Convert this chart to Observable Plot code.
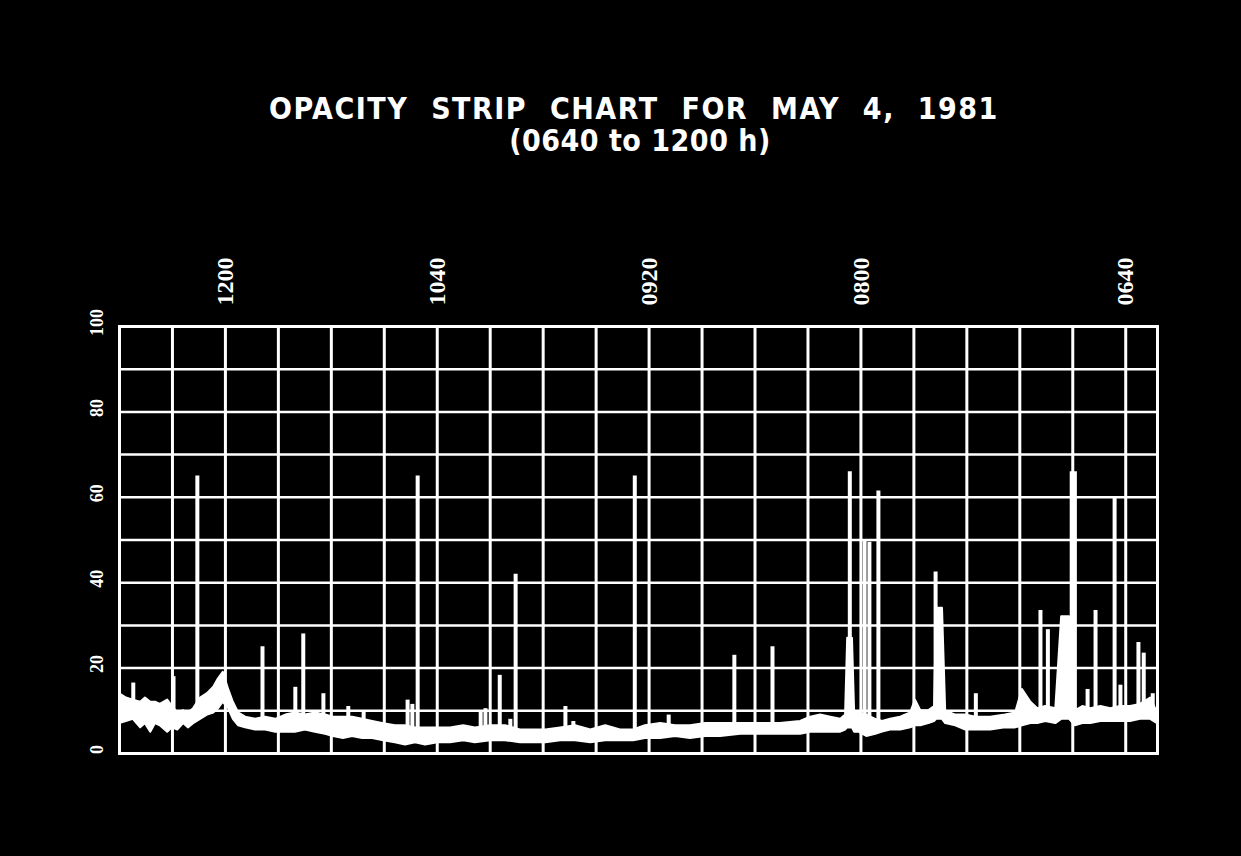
<!DOCTYPE html>
<html>
<head>
<meta charset="utf-8">
<script src="https://cdn.jsdelivr.net/npm/d3@7"></script>
<script src="https://cdn.jsdelivr.net/npm/@observablehq/plot@0.6"></script>
<style>
  html, body { margin: 0; padding: 0; background: #000; }
  body { width: 1241px; height: 856px; overflow: hidden; }
  #head { position: relative; height: 230px; }
  .t { position: absolute; transform: translateX(-50%); white-space: nowrap; color: #fff;
       font-family: "DejaVu Sans Condensed", "DejaVu Sans", sans-serif; font-stretch: condensed;
       font-weight: bold; font-size: 30px; line-height: 30px; }
  #t1 { left: 634px; top: 94px; letter-spacing: 1.5px; word-spacing: 12px; }
  #t2 { left: 640px; top: 126px; letter-spacing: 0.5px; }
  svg { display: block; }
</style>
</head>
<body>
<div id="head">
  <div class="t" id="t1">OPACITY STRIP CHART FOR MAY 4, 1981</div>
  <div class="t" id="t2">(0640 to 1200 h)</div>
</div>
<div id="chart"></div>
<script>
// x is measured in strip-chart grid divisions from the left edge (time runs right to left)
const xTickDivs = [2, 6, 10, 14, 19];
const xTickLabels = ["1200", "1040", "0920", "0800", "0640"];
const yTicks = [0, 20, 40, 60, 80, 100];

// baseline trace (noisy pen band): lower and upper edge of the band, % opacity
const bandDiv = [0, 0.13, 0.26, 0.40, 0.49, 0.59, 0.68, 0.77, 0.91, 1.00, 1.10, 1.21, 1.30, 1.40, 1.53, 1.66, 1.78, 1.87, 1.96, 2.06,
  2.15, 2.25, 2.38, 2.57, 2.76, 2.95, 3.14, 3.32, 3.51, 3.70, 3.89, 4.04, 4.23, 4.40, 4.59, 4.78, 4.99, 5.21, 5.40, 5.59,
  5.78, 6.01, 6.25, 6.50, 6.72, 7.01, 7.29, 7.57, 7.86, 8.05, 8.33, 8.61, 8.90, 9.18, 9.46, 9.71, 9.93, 10.22, 10.50, 10.78,
  11.07, 11.35, 11.73, 12.11, 12.48, 12.86, 13.05, 13.24, 13.43, 13.62, 13.71, 13.75, 13.84, 13.88, 13.96, 14.11, 14.28, 14.41, 14.56, 14.75,
  14.94, 15.03, 15.13, 15.28, 15.39, 15.43, 15.54, 15.60, 15.79, 15.98, 16.17, 16.45, 16.73, 16.92, 17.05, 17.21, 17.34, 17.49, 17.68, 17.79,
  17.94, 18.05, 18.19, 18.34, 18.53, 18.72, 18.90, 19.09, 19.28, 19.47, 19.60];
const bandLow = [7, 7.5, 8, 6, 7, 5, 7, 6.5, 5, 6, 5.5, 7, 6, 7, 8, 9, 9.5, 10.5, 12, 10.5,
  8, 6.5, 6, 5.5, 5.5, 5, 5, 5, 5.5, 5, 4.5, 4, 3.5, 4, 3.5, 3.5, 3, 2.5, 2, 2.5,
  2, 2.5, 2.5, 3, 2.5, 3, 3, 2.5, 2.5, 2.5, 3, 3, 2.5, 3, 3, 3, 3.5, 3.5, 4, 3.5,
  4, 4, 4.5, 4.5, 4.5, 4.5, 5, 5, 5, 5, 5.5, 6, 6, 5, 5, 4, 4.5, 5, 5.5, 5.5,
  6, 6.5, 6.5, 7, 7.5, 8, 8, 7, 6.5, 5.5, 5.5, 5.5, 6, 6, 6.5, 7, 7, 7.5, 7, 8,
  8, 6.5, 7, 7, 7.5, 7.5, 7.5, 7.5, 8, 8, 7];
const bandHigh = [14, 13, 12.5, 12, 13, 12, 12, 11.5, 12.5, 11, 9.5, 10, 9.5, 10.5, 13, 14, 15.5, 17.5, 19, 15,
  12, 9.5, 8.5, 8, 8.5, 8, 9, 9.5, 9, 9.5, 9, 8.5, 8.5, 8.5, 8, 7.5, 7, 6.5, 6.5, 6,
  6, 6, 6, 6.5, 6, 6.5, 6.5, 5.5, 5.5, 5.5, 6, 6.5, 5.5, 6.5, 5.5, 5.5, 6.5, 7, 6.5, 6.5,
  7, 7, 7, 7, 7, 7.5, 8.5, 9, 8.5, 8, 9, 27, 27, 10, 9.5, 9, 8, 7.5, 8, 8.5,
  9.5, 12.5, 10, 10, 11, 34, 34, 10, 9, 9, 8.5, 8.5, 9, 9.5, 15, 12, 10.5, 11, 10.5, 32,
  32, 10, 11, 10.5, 11, 10.5, 11, 11, 11.5, 13, 9.5];

// pen excursions (spikes): position, foot and peak, % opacity
const spikeDiv = [0.26, 1.02, 1.47, 2.70, 3.32, 3.47, 3.85, 4.32, 4.61, 5.44, 5.53, 5.63, 6.82, 6.91, 7.18, 7.38, 7.48, 8.42, 8.57, 9.73,
  10.37, 11.61, 12.33, 13.79, 14.07, 14.16, 14.33, 15.41, 16.17, 17.39, 17.53, 17.98, 18.04, 18.28, 18.43, 18.79, 18.90, 19.24, 19.34, 19.51];
const spikeBase = [10, 8, 9, 7, 7, 7, 7, 6, 6, 4, 4, 4, 4.5, 4.5, 4.5, 4, 4, 4.5, 4.5, 4.5,
  5, 5.5, 6, 7, 7, 7, 6, 8, 7, 8, 8, 8, 8, 8, 8.5, 8.5, 8.5, 9, 9, 9];
const spikeTop = [16.5, 18, 65, 25, 15.5, 28, 14, 11, 10, 12.5, 11.5, 65, 10, 10.5, 18.3, 8, 42, 11, 7.5, 65,
  9, 23, 25, 66, 50, 49.5, 61.5, 42.5, 14, 33.5, 29, 66, 66, 15, 33.5, 60, 16, 26, 23.5, 14];

const band = bandDiv.map((d, i) => ({div: d, low: bandLow[i], high: bandHigh[i]}));
const spikes = spikeDiv.map((d, i) => ({div: d, base: spikeBase[i], top: spikeTop[i]}));
const xTicks = xTickDivs.map((d, i) => ({div: d, label: xTickLabels[i]}));
const vGrid = d3.range(1, 20);
const hGrid = d3.range(10, 100, 10);

const chart = Plot.plot({
  width: 1241,
  height: 626,
  marginLeft: 119,
  marginRight: 84,
  marginTop: 96,
  marginBottom: 103,
  style: {background: "#000", color: "#fff"},
  x: {domain: [0, 19.6], axis: null},
  y: {domain: [0, 100], axis: null},
  marks: [
    Plot.ruleX(vGrid, {stroke: "#fff", strokeWidth: 3}),
    Plot.ruleY(hGrid, {stroke: "#fff", strokeWidth: 2.5}),
    Plot.frame({stroke: "#fff", strokeWidth: 3}),
    Plot.areaY(band, {x: "div", y1: "low", y2: "high", fill: "#fff", stroke: "#fff", strokeWidth: 2}),
    Plot.ruleX(spikes, {x: "div", y1: "base", y2: "top", stroke: "#fff", strokeWidth: 4}),
    Plot.text(yTicks, {y: d => d, text: d => String(d), frameAnchor: "left", dx: -22, dy: -4, rotate: -90,
      fill: "#fff", fontFamily: "Liberation Serif", fontWeight: "bold", fontSize: 18, textAnchor: "middle", lineAnchor: "middle"}),
    Plot.text(xTicks, {x: "div", text: "label", frameAnchor: "top", dy: -45, rotate: -90,
      fill: "#fff", fontFamily: "Liberation Serif", fontWeight: "bold", fontSize: 24, textAnchor: "middle", lineAnchor: "middle"})
  ]
});
document.getElementById("chart").appendChild(chart);
</script>
</body>
</html>
